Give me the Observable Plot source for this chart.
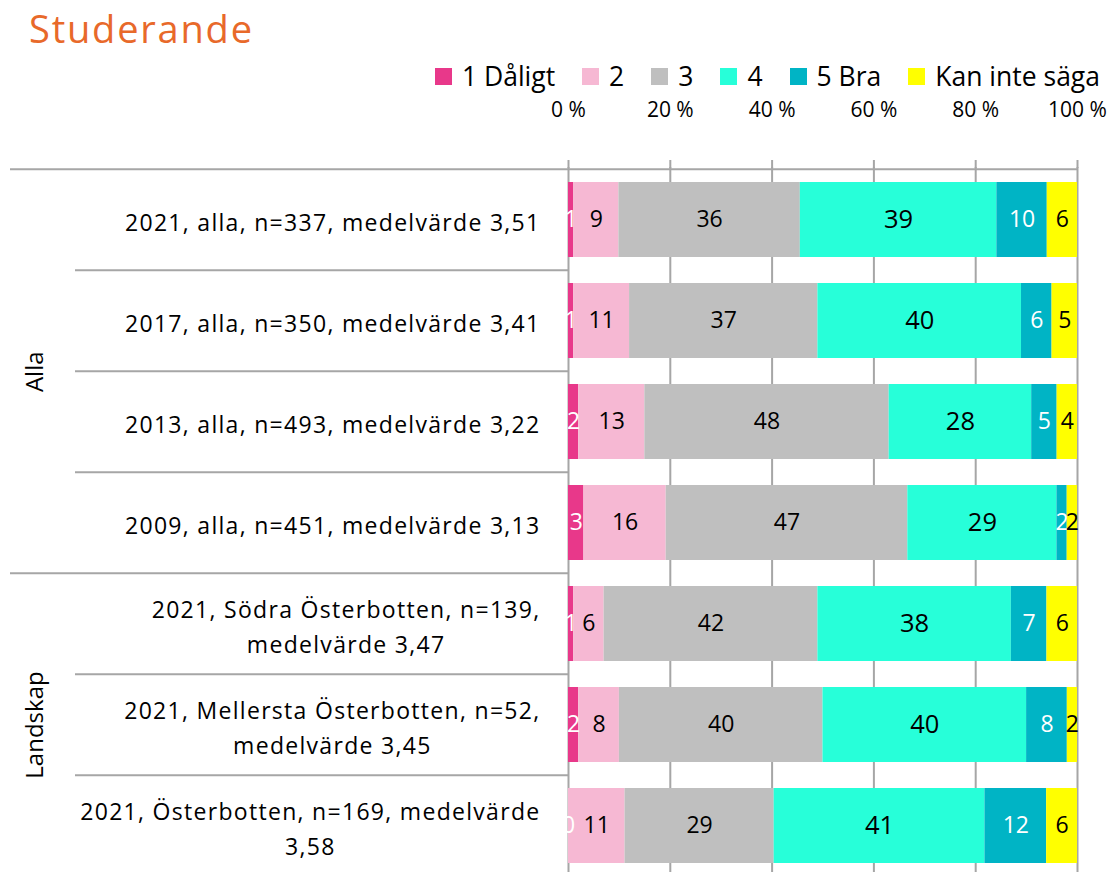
<!DOCTYPE html>
<html>
<head>
<meta charset="utf-8">
<script src="https://cdn.jsdelivr.net/npm/d3@7"></script>
<script src="https://cdn.jsdelivr.net/npm/@observablehq/plot@0.6"></script>
<style>
  html, body { margin: 0; padding: 0; background: #fff; overflow: hidden; }
  body { width: 1114px; height: 872px; position: relative; font-family: "Open Sans", Lato, sans-serif; }
  #title { position: absolute; left: 29px; top: 2px; font-size: 38px; letter-spacing: 1.8px; line-height: 52px; color: #E8692A; z-index: 2; }
  #legend { position: absolute; right: 14px; top: 61px; display: flex; gap: 27px; font-size: 26.5px; line-height: 30px; z-index: 2; align-items: center; }
  #legend .item { display: flex; align-items: center; gap: 10px; }
  #legend .sw { width: 17px; height: 17px; display: inline-block; }
  #chart { position: absolute; left: 0; top: 0; }
  .catlab text { letter-spacing: 1.3px; }
</style>
</head>
<body>
<div id="title">Studerande</div>
<div id="legend"></div>
<div id="chart"></div>
<script>
const categories = [
  "2021, alla, n=337, medelvärde 3,51",
  "2017, alla, n=350, medelvärde 3,41",
  "2013, alla, n=493, medelvärde 3,22",
  "2009, alla, n=451, medelvärde 3,13",
  "2021, Södra Österbotten, n=139,\nmedelvärde 3,47",
  "2021, Mellersta Österbotten, n=52,\nmedelvärde 3,45",
  "2021, Österbotten, n=169, medelvärde\n3,58"
];
const groups = ["Alla", "Landskap"];
const seriesNames = ["1 Dåligt", "2", "3", "4", "5 Bra", "Kan inte säga"];
const seriesColors = ["#E8388A", "#F6B8D3", "#BFBFBF", "#27FFD9", "#00B4C5", "#FFFF00"];
const tickValues = [0, 0.2, 0.4, 0.6, 0.8, 1];

const v1 = [1, 1, 2, 3, 1, 2, 0];
const v2 = [9, 11, 13, 16, 6, 8, 11];
const v3 = [36, 37, 48, 47, 42, 40, 29];
const v4 = [39, 40, 28, 29, 38, 40, 41];
const v5 = [10, 6, 5, 2, 7, 8, 12];
const v6 = [6, 5, 4, 2, 6, 2, 6];
const seriesValues = [v1, v2, v3, v4, v5, v6];

const data = [];
categories.forEach((c, i) => {
  seriesNames.forEach((s, j) => {
    data.push({category: c, series: s, value: seriesValues[j][i]});
  });
});

// legend
const legend = document.getElementById("legend");
seriesNames.forEach((s, j) => {
  const it = document.createElement("div");
  it.className = "item";
  it.innerHTML = `<span class="sw" style="background:${seriesColors[j]}"></span><span>${s}</span>`;
  legend.appendChild(it);
});

const W = 1114, H = 878, MT = 167, ML = 568, MR = 37, MB = 0;
const step = (H - MT - MB) / categories.length;
const pxPerUnit = W - ML - MR;
const px = (p) => (p - ML) / pxPerUnit; // pixel x -> x-scale units (for margin marks)
const grid = "#A6A6A6";
const FF = "'Open Sans', Lato, sans-serif";

const plot = Plot.plot({
  width: W, height: H,
  marginTop: MT, marginLeft: ML, marginRight: MR, marginBottom: MB,
  style: {fontFamily: FF, overflow: "visible"},
  x: {domain: [0, 1]},
  y: {domain: categories, paddingInner: 0.26, paddingOuter: 0.13, axis: null},
  color: {domain: seriesNames, range: seriesColors},
  marks: [
    Plot.ruleX(tickValues, {stroke: grid, strokeWidth: 2}),
    Plot.barX(data, Plot.stackX({x: "value", y: "category", fill: "series", z: "series", offset: "normalize"})),
    Plot.text(data, Plot.stackX({
      x: "value", y: "category", z: "series", offset: "normalize",
      text: d => String(d.value),
      fill: d => (d.series === "1 Dåligt" || d.series === "5 Bra") ? "#fff" : "#000",
      fontSize: d => d.series === "4" ? 25.5 : 23
    })),
    Plot.axisX({anchor: "top", ticks: tickValues, tickFormat: d => `${Math.round(d * 100)} %`,
      tickSize: 8, tickPadding: 43, fontSize: 21, stroke: grid, strokeWidth: 2, color: "#000", label: null}),
    // separators
    Plot.ruleY([categories[0]], {x1: px(10), x2: 1, stroke: grid, strokeWidth: 2, dy: -step / 2}),
    Plot.ruleY([categories[1], categories[2], categories[3], categories[5], categories[6]], {x1: px(75), x2: 0, stroke: grid, strokeWidth: 2, dy: -step / 2}),
    Plot.ruleY([categories[4]], {x1: px(10), x2: 0, stroke: grid, strokeWidth: 2, dy: -step / 2}),
    Plot.ruleY([categories[6]], {x1: px(10), x2: 0, stroke: grid, strokeWidth: 2, dy: step / 2}),
    // category labels
    Plot.text(categories, {y: d => d, x: px(540), text: d => d, textAnchor: "end", fontSize: 23, lineHeight: 1.55, fill: "#000", className: "catlab"}),
    // group labels
    Plot.text([groups[0]], {y: () => categories[1], dy: step / 2, x: px(35), text: d => d, rotate: -90, fontSize: 24, fill: "#000"}),
    Plot.text([groups[1]], {y: () => categories[5], x: px(35), text: d => d, rotate: -90, fontSize: 24, fill: "#000"})
  ]
});
document.getElementById("chart").appendChild(plot);

// center multi-line category labels on their widest line (as in the original)
plot.querySelectorAll(".catlab text").forEach(t => {
  if (t.querySelectorAll("tspan").length > 1) {
    const w = t.getBBox().width;
    t.setAttribute("text-anchor", "middle");
    t.setAttribute("transform", (t.getAttribute("transform") || "") + ` translate(${-w / 2},0)`);
  }
});
</script>
</body>
</html>
